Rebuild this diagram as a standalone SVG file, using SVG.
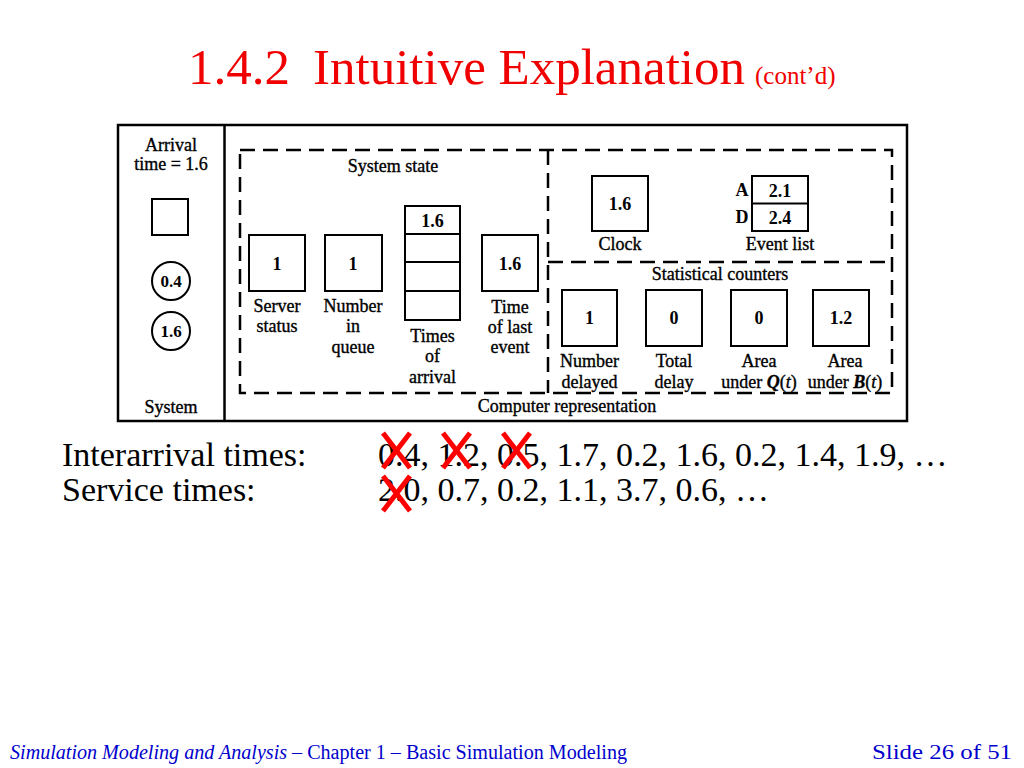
<svg xmlns="http://www.w3.org/2000/svg" width="1024" height="768" viewBox="0 0 1024 768">
<style>
.t{font-family:"Liberation Serif","Times New Roman",serif;fill:#000}
.lb{font-size:18px;text-anchor:middle;stroke:#000;stroke-width:0.35}
.nb{font-size:18px;font-weight:bold;text-anchor:middle}
.bx{fill:none;stroke:#000;stroke-width:2}
.dash{fill:none;stroke:#000;stroke-width:2.5;stroke-dasharray:15 8}
.x{stroke:#FF0000;stroke-width:5;stroke-linecap:butt}
</style>
<rect width="1024" height="768" fill="#fff"/>
<g id="title">
<text class="t" x="188" y="84" font-size="51" style="fill:#F00000">1.4.2<tspan x="313">Intuitive Explanation</tspan></text>
<text class="t" x="755" y="84" font-size="25" style="fill:#F00000">(cont’d)</text>
</g>
<g id="frame">
<rect x="118" y="125" width="789" height="296" fill="none" stroke="#000" stroke-width="2.5"/>
<line x1="224.5" y1="125" x2="224.5" y2="421" stroke="#000" stroke-width="2.5"/>
</g>
<g id="system">
<text class="t lb" x="171" y="151">Arrival</text>
<text class="t lb" x="171" y="170">time = 1.6</text>
<rect class="bx" x="152" y="199" width="36" height="36"/>
<circle class="bx" cx="171" cy="281" r="19"/>
<text class="t nb" x="171" y="287" style="font-size:17px">0.4</text>
<circle class="bx" cx="171" cy="331" r="19"/>
<text class="t nb" x="171" y="337" style="font-size:17px">1.6</text>
<text class="t lb" x="171" y="413">System</text>
</g>
<g id="dashed-regions">
<rect class="dash" x="240" y="150" width="652" height="243"/>
<line class="dash" x1="548" y1="150" x2="548" y2="393"/>
<line class="dash" x1="548" y1="262" x2="892" y2="262"/>
</g>
<g id="system-state">
<text class="t lb" x="393" y="172">System state</text>
</g>
<g id="server-status">
<rect class="bx" x="249" y="235" width="56" height="56"/>
<text class="t nb" x="277" y="270">1</text>
<text class="t lb" x="277" y="312">Server</text>
<text class="t lb" x="277" y="332">status</text>
</g>
<g id="number-in-queue">
<rect class="bx" x="325" y="235" width="57" height="56"/>
<text class="t nb" x="353" y="270">1</text>
<text class="t lb" x="353" y="312">Number</text>
<text class="t lb" x="353" y="332">in</text>
<text class="t lb" x="353" y="353">queue</text>
</g>
<g id="times-of-arrival">
<rect class="bx" x="405" y="206" width="55" height="114"/>
<line class="bx" x1="405" y1="234" x2="460" y2="234"/>
<line class="bx" x1="405" y1="262" x2="460" y2="262"/>
<line class="bx" x1="405" y1="291" x2="460" y2="291"/>
<text class="t nb" x="432.5" y="227">1.6</text>
<text class="t lb" x="432.5" y="342">Times</text>
<text class="t lb" x="432.5" y="362">of</text>
<text class="t lb" x="432.5" y="383">arrival</text>
</g>
<g id="time-of-last-event">
<rect class="bx" x="482" y="235" width="56" height="56"/>
<text class="t nb" x="510" y="270">1.6</text>
<text class="t lb" x="510" y="313">Time</text>
<text class="t lb" x="510" y="333">of last</text>
<text class="t lb" x="510" y="353">event</text>
</g>
<g id="clock">
<rect class="bx" x="592" y="176" width="56" height="55"/>
<text class="t nb" x="620" y="210">1.6</text>
<text class="t lb" x="620" y="250">Clock</text>
</g>
<g id="event-list">
<rect class="bx" x="752" y="176" width="56" height="55"/>
<line class="bx" x1="752" y1="203.5" x2="808" y2="203.5"/>
<text class="t nb" x="780" y="197">2.1</text>
<text class="t nb" x="780" y="224">2.4</text>
<text class="t nb" x="742" y="196">A</text>
<text class="t nb" x="742" y="223">D</text>
<text class="t lb" x="780" y="250">Event list</text>
</g>
<g id="statistical-counters">
<text class="t lb" x="720" y="280">Statistical counters</text>
</g>
<g id="number-delayed">
<rect class="bx" x="562" y="290" width="55" height="56"/>
<text class="t nb" x="589.5" y="324">1</text>
<text class="t lb" x="589.5" y="367">Number</text>
<text class="t lb" x="589.5" y="388">delayed</text>
</g>
<g id="total-delay">
<rect class="bx" x="646" y="290" width="56" height="56"/>
<text class="t nb" x="674" y="324">0</text>
<text class="t lb" x="674" y="367">Total</text>
<text class="t lb" x="674" y="388">delay</text>
</g>
<g id="area-q">
<rect class="bx" x="731" y="290" width="56" height="56"/>
<text class="t nb" x="759" y="324">0</text>
<text class="t lb" x="759" y="367">Area</text>
<text class="t lb" x="759" y="388">under <tspan font-style="italic" font-weight="bold">Q</tspan>(<tspan font-style="italic">t</tspan>)</text>
</g>
<g id="area-b">
<rect class="bx" x="813" y="290" width="56" height="56"/>
<text class="t nb" x="841" y="324">1.2</text>
<text class="t lb" x="845" y="367">Area</text>
<text class="t lb" x="845" y="388">under <tspan font-style="italic" font-weight="bold">B</tspan>(<tspan font-style="italic">t</tspan>)</text>
</g>
<g id="computer-representation">
<text class="t lb" x="567" y="412">Computer representation</text>
</g>
<g id="connectors"/>
<g id="sequences">
<text class="t" x="62" y="466" font-size="34">Interarrival times:</text>
<text class="t" x="378" y="466" font-size="34">0.4, 1.2, 0.5, 1.7, 0.2, 1.6, 0.2, 1.4, 1.9, …</text>
<text class="t" x="62" y="501" font-size="34">Service times:</text>
<text class="t" x="378" y="501" font-size="34">2.0, 0.7, 0.2, 1.1, 3.7, 0.6, …</text>
</g>
<g id="crosses">
<line class="x" x1="383" y1="433" x2="410" y2="468"/><line class="x" x1="410" y1="433" x2="383" y2="468"/>
<line class="x" x1="443" y1="433" x2="470" y2="468"/><line class="x" x1="470" y1="433" x2="443" y2="468"/>
<line class="x" x1="503" y1="433" x2="530" y2="468"/><line class="x" x1="530" y1="433" x2="503" y2="468"/>
<line class="x" x1="383" y1="476" x2="410" y2="511"/><line class="x" x1="410" y1="476" x2="383" y2="511"/>
</g>
<g id="footer">
<text class="t" x="10" y="759" font-size="20" style="fill:#0000CC" textLength="617" lengthAdjust="spacingAndGlyphs"><tspan font-style="italic">Simulation Modeling and Analysis</tspan> – Chapter 1 –  Basic Simulation Modeling</text>
<text class="t" x="872" y="759" font-size="20" style="fill:#0000CC" textLength="140" lengthAdjust="spacingAndGlyphs">Slide 26 of 51</text>
</g>
</svg>
